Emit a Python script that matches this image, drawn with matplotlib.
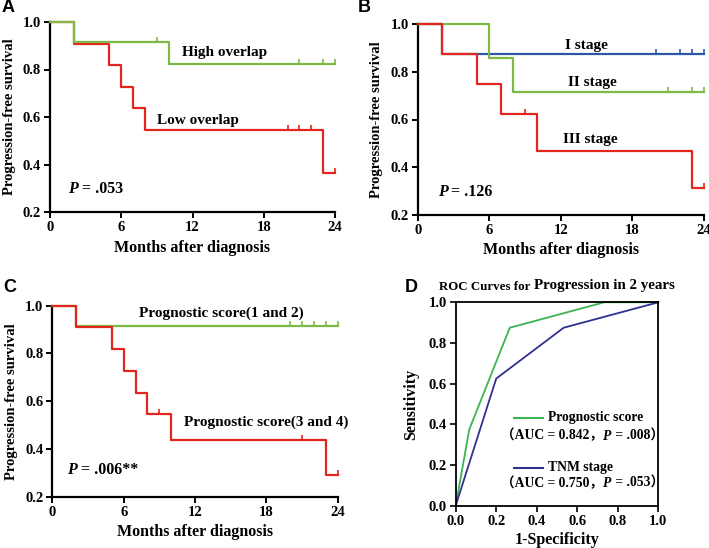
import matplotlib
matplotlib.use("Agg")
import matplotlib.pyplot as plt
from matplotlib.path import Path
from matplotlib.offsetbox import TextArea, HPacker, AnnotationBbox
import numpy as np

# ---------------- data ----------------
# Panel A
a_high_t = [0, 2, 10, 24]
a_high_s = [1.0, 0.917, 0.825, 0.825]
a_high_cens_t = [9, 21, 23, 24]
a_high_cens_s = [0.917, 0.825, 0.825, 0.825]
a_low_t = [0, 2, 5, 6, 7, 8, 23, 24]
a_low_s = [1.0, 0.909, 0.818, 0.727, 0.636, 0.545, 0.364, 0.364]
a_low_cens_t = [20, 21, 22, 24]
a_low_cens_s = [0.545, 0.545, 0.545, 0.364]

# Panel B
b_i_t = [0, 2, 24]
b_i_s = [1.0, 0.875, 0.875]
b_i_cens_t = [20, 22, 23, 24]
b_i_cens_s = [0.875, 0.875, 0.875, 0.875]
b_ii_t = [0, 6, 8, 24]
b_ii_s = [1.0, 0.857, 0.714, 0.714]
b_ii_cens_t = [21, 23, 24]
b_ii_cens_s = [0.714, 0.714, 0.714]
b_iii_t = [0, 2, 5, 7, 10, 23, 24]
b_iii_s = [1.0, 0.875, 0.75, 0.625, 0.469, 0.3125, 0.3125]
b_iii_cens_t = [9, 24]
b_iii_cens_s = [0.625, 0.3125]

# Panel C
c_low_t = [0, 2, 24]
c_low_s = [1.0, 0.917, 0.917]
c_low_cens_t = [20, 21, 22, 23, 24]
c_low_cens_s = [0.917, 0.917, 0.917, 0.917, 0.917]
c_high_t = [0, 2, 5, 6, 7, 8, 10, 23, 24]
c_high_s = [1.0, 0.909, 0.818, 0.727, 0.636, 0.545, 0.436, 0.291, 0.291]
c_high_cens_t = [9, 21, 24]
c_high_cens_s = [0.545, 0.436, 0.291]

# Panel D (ROC)
roc_ps_fpr = [0.0, 0.067, 0.267, 0.733, 1.0]
roc_ps_tpr = [0.0, 0.375, 0.875, 1.0, 1.0]
roc_tnm_fpr = [0.0, 0.2, 0.533, 1.0]
roc_tnm_tpr = [0.0, 0.625, 0.875, 1.0]

km_xticks = [0, 6, 12, 18, 24]
km_yticks = [0.2, 0.4, 0.6, 0.8, 1.0]
roc_ticks = [0.0, 0.2, 0.4, 0.6, 0.8, 1.0]

# ---------------- style ----------------
GREEN = "#7cba43"
RED = "#e2261f"
BLUE = "#2f56a6"
D_GREEN = "#3cb454"
D_BLUE = "#2e3190"
SERIF = "Liberation Serif"

plt.rcParams["font.family"] = SERIF
plt.rcParams["font.weight"] = "bold"

censor_marker = Path([(0, 0), (0, 1)], [Path.MOVETO, Path.LINETO])

W, H = 709, 548
fig = plt.figure(figsize=(W / 100, H / 100), dpi=100)


def px_axes(l, t, r, b):
    return fig.add_axes([l / W, 1 - b / H, (r - l) / W, (b - t) / H])


def style_km(ax):
    ax.set_xlim(0, 24)
    ax.set_ylim(0.2, 1.0)
    ax.set_xticks(km_xticks)
    ax.set_xticklabels([str(v) for v in km_xticks])
    ax.set_yticks(km_yticks)
    ax.set_yticklabels([f"{v:.1f}" for v in km_yticks])
    for s in ["top", "right"]:
        ax.spines[s].set_visible(False)
    for s in ["left", "bottom"]:
        ax.spines[s].set_linewidth(1.6)
    ax.tick_params(direction="out", length=4, width=1.4, labelsize=10.5, pad=2.5)
    for lab in ax.get_xticklabels() + ax.get_yticklabels():
        lab.set_fontweight("bold")
    ax.set_xlabel("Months after diagnosis", fontsize=11.5, fontweight="bold", labelpad=4)
    ax.set_ylabel("Progression-free survival", fontsize=10.5, fontweight="bold", labelpad=5)


def km(ax, t, s, ct, cs, color, z):
    ax.step(t, s, where="post", color=color, lw=1.6, zorder=z, clip_on=False)
    ax.plot(ct, cs, linestyle="none", marker=censor_marker, markersize=7,
            markeredgewidth=1.2, color=color, zorder=z, clip_on=False)


def rich(ax, x, y, parts, coords="data", align=(0, 0.5)):
    boxes = [TextArea(txt, textprops=props) for txt, props in parts]
    pack = HPacker(children=boxes, align="baseline", pad=0, sep=0)
    ab = AnnotationBbox(pack, (x, y), xycoords=coords, box_alignment=align,
                        frameon=False, pad=0, annotation_clip=False)
    ax.add_artist(ab)


def pval(ax, x, y, val):
    rich(ax, x, y, [("P", dict(fontsize=11.5, fontweight="bold", fontstyle="italic", family=SERIF)),
                    (" = " + val, dict(fontsize=11.5, fontweight="bold", family=SERIF))])


# ---------------- Panel A ----------------
axA = px_axes(50, 22, 335, 212)
km(axA, a_low_t, a_low_s, a_low_cens_t, a_low_cens_s, RED, 3)
km(axA, a_high_t, a_high_s, a_high_cens_t, a_high_cens_s, GREEN, 4)
style_km(axA)
axA.text(11.1, 0.871, "High overlap", fontsize=11, fontweight="bold", va="center")
axA.text(9.0, 0.584, "Low overlap", fontsize=11, fontweight="bold", va="center")
pval(axA, 1.5, 0.297, ".053")

# ---------------- Panel B ----------------
axB = px_axes(417.7, 24.3, 703.7, 214.7)
km(axB, b_i_t, b_i_s, b_i_cens_t, b_i_cens_s, BLUE, 3)
km(axB, b_ii_t, b_ii_s, b_ii_cens_t, b_ii_cens_s, GREEN, 4)
km(axB, b_iii_t, b_iii_s, b_iii_cens_t, b_iii_cens_s, RED, 5)
style_km(axB)
axB.text(12.4, 0.913, "I stage", fontsize=11, fontweight="bold", va="center")
axB.text(12.6, 0.755, "II stage", fontsize=11, fontweight="bold", va="center")
axB.text(12.2, 0.517, "III stage", fontsize=11, fontweight="bold", va="center")
pval(axB, 1.68, 0.297, ".126")

# ---------------- Panel C ----------------
axC = px_axes(52.3, 305.7, 337.7, 496.7)
km(axC, c_low_t, c_low_s, c_low_cens_t, c_low_cens_s, GREEN, 3)
km(axC, c_high_t, c_high_s, c_high_cens_t, c_high_cens_s, RED, 4)
style_km(axC)
axC.text(7.3, 0.968, "Prognostic score(1 and 2)", fontsize=11, fontweight="bold", va="center")
axC.text(11.07, 0.51, "Prognostic score(3 and 4)", fontsize=11, fontweight="bold", va="center")
pval(axC, 1.26, 0.312, ".006**")

# ---------------- Panel D ----------------
axD = px_axes(455.7, 302.3, 658.3, 505.7)
axD.plot(roc_ps_fpr, roc_ps_tpr, color=D_GREEN, lw=1.3, clip_on=False)
axD.plot(roc_tnm_fpr, roc_tnm_tpr, color=D_BLUE, lw=1.3, clip_on=False)
axD.set_xlim(0, 1)
axD.set_ylim(0, 1)
axD.set_xticks(roc_ticks)
axD.set_xticklabels([f"{v:.1f}" for v in roc_ticks])
axD.set_yticks(roc_ticks)
axD.set_yticklabels([f"{v:.1f}" for v in roc_ticks])
for s in axD.spines.values():
    s.set_linewidth(1.3)
axD.tick_params(direction="out", length=4, width=1.2, labelsize=10.5, pad=2.5)
for lab in axD.get_xticklabels() + axD.get_yticklabels():
    lab.set_fontweight("bold")
axD.set_xlabel("1-Specificity", fontsize=11.5, fontweight="bold", labelpad=3)
axD.set_ylabel("Sensitivity", fontsize=11.5, fontweight="bold", labelpad=7)

axD.plot([0.288, 0.431], [0.433, 0.433], color=D_GREEN, lw=1.5, transform=axD.transAxes)
axD.plot([0.288, 0.431], [0.187, 0.187], color=D_BLUE, lw=1.5, transform=axD.transAxes)
axD.text(0.455, 0.433, "Prognostic score", transform=axD.transAxes, fontsize=9.8,
         fontweight="bold", va="center")
axD.text(0.455, 0.187, "TNM stage", transform=axD.transAxes, fontsize=9.8,
         fontweight="bold", va="center")
fam = [SERIF, "Noto Sans CJK SC"]
for yy, auc, p in [(0.344, "0.842", ".008"), (0.110, "0.750", ".053")]:
    rich(axD, 0.225, yy,
         [("（AUC = " + auc + "，", dict(fontsize=9.8, fontweight="bold", family=fam)),
          ("P", dict(fontsize=9.8, fontweight="bold", fontstyle="italic", family=SERIF)),
          (" = " + p + "）", dict(fontsize=9.8, fontweight="bold", family=fam))],
         coords="axes fraction")

# Title of D (two sizes)
title_box = HPacker(children=[
    TextArea("ROC Curves for ", textprops=dict(fontsize=9.3, fontweight="bold", family=SERIF)),
    TextArea("Progression in 2 years", textprops=dict(fontsize=10.8, fontweight="bold", family=SERIF)),
], align="baseline", pad=0, sep=0)
fig.add_artist(AnnotationBbox(title_box, (439.3 / W, 1 - 286 / H), xycoords="figure fraction",
                              box_alignment=(0, 0.5), frameon=False, pad=0))

# Panel letters
for letter, x, y in [("A", 2, 8), ("B", 358, 8), ("C", 3, 288), ("D", 405, 288)]:
    fig.text(x / W, 1 - y / H, letter, fontsize=13, fontweight="bold",
             family="Liberation Sans", va="center", ha="left")

fig.savefig("out.png", dpi=100)
